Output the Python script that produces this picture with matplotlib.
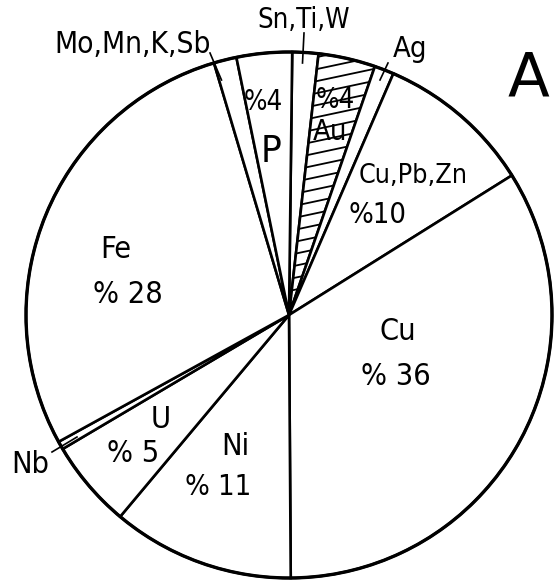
import numpy as np
import matplotlib.pyplot as plt
from matplotlib.patches import Circle
from matplotlib import font_manager

# Slices as drawn, clockwise from the top of the circle (share of circle, %)
elements = ["Sn,Ti,W", "Au", "Ag", "Cu,Pb,Zn", "Cu", "Ni", "U", "Nb", "Fe", "Mo,Mn,K,Sb", "P"]
shares = [1.6, 3.5, 1.2, 9.6, 33.8, 11.2, 5.4, 0.5, 28.4, 1.4, 3.4]

# Percent figures written into the slices
percent_text = {"P": "%4", "Au": "%4", "Cu,Pb,Zn": "%10", "Fe": "% 28",
                "Cu": "% 36", "U": "% 5", "Ni": "% 11"}

W, H = 554, 582
fig = plt.figure(figsize=(W / 100, H / 100), dpi=100)
ax = fig.add_axes([0, 0, 1, 1])
plt.rcParams['font.family'] = ['DejaVu Sans']

# the lettering is narrow; use the condensed cut if it is there
condensed = any(f.name == "DejaVu Sans" and f.stretch == "condensed"
                for f in font_manager.fontManager.ttflist)
stretch = "condensed" if condensed else "normal"
scale = 1.1 if condensed else 1.0


def Y(y):
    # picture rows run downwards, axes run upwards
    return H - y


cx, cy, r = 289, Y(315), 263

wedges, _ = ax.pie(shares, startangle=89.3, counterclock=False,
                   center=(cx, cy), radius=r, colors=["white"] * len(shares),
                   wedgeprops=dict(edgecolor="black", linewidth=1.9),
                   frame=True)
ax.add_patch(Circle((cx, cy), r, fill=False, ec="black", lw=2.4, zorder=5))

# shallow hatching in the Au slice
au = wedges[elements.index("Au")]
slope = np.tan(np.radians(12))
for k in range(0, 26):
    y0 = cy + k * 12
    xs = np.array([cx - 150, cx + 150])
    ln, = ax.plot(xs, y0 + slope * (xs - cx), color="black", lw=1.3)
    ln.set_clip_path(au)

# leader ticks for the thin slices
leaders = [((304, 33), (302.5, 63)),      # Sn,Ti,W
           ((210, 53), (221.5, 80)),      # Mo,Mn,K,Sb
           ((388, 63), (380, 80)),        # Ag
           ((52, 452), (77, 437))]        # Nb
for (x0, y0), (x1, y1) in leaders:
    ax.plot([x0, x1], [Y(y0), Y(y1)], color="black", lw=1.2)

# names (x centre, baseline, size)
name_pos = {"Sn,Ti,W": (304, 28, 18), "Mo,Mn,K,Sb": (133, 53, 19.5),
            "Ag": (410, 57, 19), "P": (271, 162, 25), "Au": (330, 140, 19),
            "Cu,Pb,Zn": (413, 183, 17.5), "Fe": (116, 258, 20),
            "Cu": (398, 340, 20), "U": (161, 428, 20), "Ni": (235, 455, 20),
            "Nb": (30, 473, 20)}
for name, (x, y, fs) in name_pos.items():
    ax.text(x, Y(y), name, ha="center", va="baseline", fontsize=fs * scale,
            fontstretch=stretch)

pct_pos = {"P": (263, 110, 18), "Au": (335, 108, 18), "Cu,Pb,Zn": (377, 223, 19),
           "Fe": (128, 303, 20), "Cu": (396, 385, 20), "U": (133, 462, 20),
           "Ni": (218, 495, 19)}
for name, (x, y, fs) in pct_pos.items():
    ax.text(x, Y(y), percent_text[name], ha="center", va="baseline",
            fontsize=fs * scale, fontstretch=stretch)

ax.text(528, Y(95), "A", ha="center", va="baseline", fontsize=44)

ax.set_xlim(0, W)
ax.set_ylim(0, H)
ax.axis("off")
fig.savefig("out.png", dpi=100)
